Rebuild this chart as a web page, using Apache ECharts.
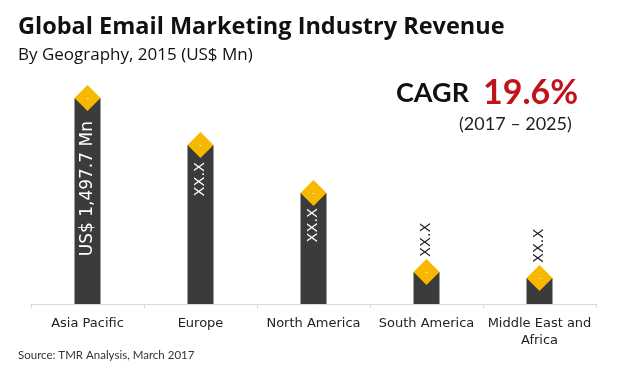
<!DOCTYPE html>
<html><head><meta charset="utf-8">
<script src="https://cdn.jsdelivr.net/npm/echarts@6/dist/echarts.min.js"></script>
<style>html,body{margin:0;padding:0;background:#fff}#c{width:620px;height:380px}</style>
</head><body><div id="c"></div>
<script>
const categories = ['Asia Pacific', 'Europe', 'North America', 'South America', 'Middle East and\nAfrica'];
const revenue = [1497.7, 1156, 807, 233, 189];
const valueLabels = ['US$ 1,497.7 Mn', 'XX.X', 'XX.X', 'XX.X', 'XX.X'];
const labelInside = [true, true, true, false, false];
const labelGap = [23, 17, 15, 15, 15];
const labelSize = [17, 14.5, 14.5, 14.5, 14.5];

const chart = echarts.init(document.getElementById('c'), null, {renderer: 'canvas'});
const valFont = '"DejaVu Sans", sans-serif';
const barData = revenue.map((v, i) => ({
  value: v,
  label: labelInside[i]
    ? {position: 'insideTop', distance: labelGap[i], align: 'right', verticalAlign: 'middle', color: '#ffffff', fontSize: labelSize[i]}
    : {position: 'top', distance: labelGap[i], align: 'left', verticalAlign: 'middle', color: '#222222', fontSize: labelSize[i]}
}));
chart.setOption({
  animation: false,
  backgroundColor: '#ffffff',
  grid: {left: 31, right: 24, top: 84, bottom: 76},
  xAxis: {
    type: 'category', data: categories,
    axisLine: {lineStyle: {color: '#d9d9d9', width: 1}},
    axisTick: {show: true, length: 4, lineStyle: {color: '#d9d9d9'}},
    axisLabel: {color: '#222', fontSize: 13, fontFamily: valFont, margin: 11, lineHeight: 17, interval: 0}
  },
  yAxis: {type: 'value', min: 0, max: 1600, show: false, splitLine: {show: false}},
  series: [
    {
      type: 'bar', data: barData, barWidth: 26,
      itemStyle: {color: '#3b3b3b'},
      label: {show: true, rotate: 90, fontFamily: valFont,
        formatter: p => valueLabels[p.dataIndex]},
      z: 2
    },
    {
      type: 'scatter', data: revenue, symbol: 'diamond', symbolSize: [26, 26],
      itemStyle: {color: '#F6B800', opacity: 1},
      label: {show: true, position: 'inside', formatter: '-', color: '#fff', fontSize: 8},
      z: 3
    }
  ],
  graphic: [
    {type: 'text', left: 18, top: 15, style: {text: 'Global Email Marketing Industry Revenue', font: 'bold 23.5px "Open Sans", sans-serif', fill: '#111'}},
    {type: 'text', left: 18, top: 47, style: {text: 'By Geography, 2015 (US$ Mn)', font: '17px "Open Sans", sans-serif', fill: '#111'}},
    {type: 'text', left: 396, top: 80, style: {text: 'CAGR', font: 'bold 27px Lato, sans-serif', fill: '#111'}},
    {type: 'text', left: 483, top: 76, style: {text: '19.6%', font: 'bold 34px Lato, sans-serif', fill: '#C0141B'}},
    {type: 'text', left: 459, top: 115, style: {text: '(2017 – 2025)', font: '18px Lato, sans-serif', fill: '#222'}},
    {type: 'text', left: 18, top: 349, style: {text: 'Source: TMR Analysis, March 2017', font: '11.5px Lato, sans-serif', fill: '#333'}}
  ]
});
</script></body></html>
